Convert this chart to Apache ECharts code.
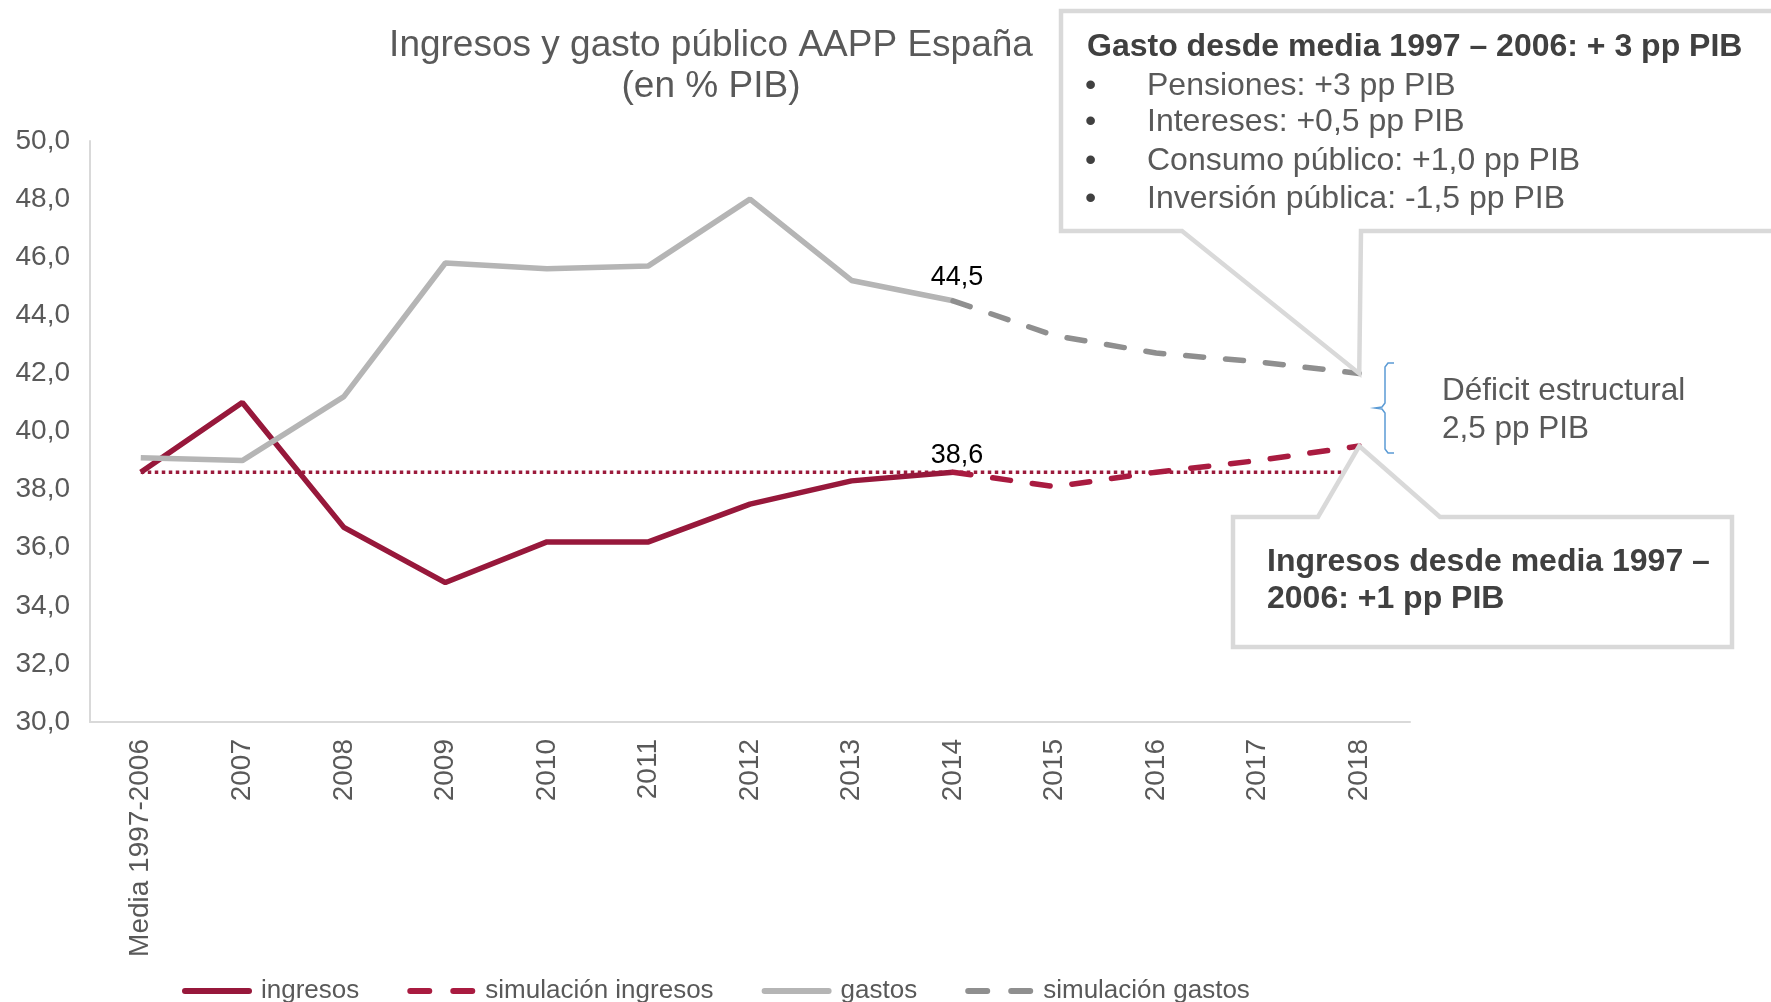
<!DOCTYPE html>
<html>
<head>
<meta charset="utf-8">
<title>Ingresos y gasto público AAPP España</title>
<script src="https://cdn.jsdelivr.net/npm/echarts@6/dist/echarts.min.js"></script>
<style>
  html, body { margin: 0; padding: 0; background: #fff; }
  #main { width: 1771px; height: 1002px; }
</style>
</head>
<body>
<div id="main"></div>
<script>
// data (% PIB)
const categories = ["Media 1997-2006", "2007", "2008", "2009", "2010", "2011", "2012",
  "2013", "2014", "2015", "2016", "2017", "2018"];
const ingresos = [38.6, 41.0, 36.7, 34.8, 36.2, 36.2, 37.5, 38.3, 38.6, null, null, null, null];
const simIngresos = [null, null, null, null, null, null, null, null, 38.6, 38.1, 38.6, 39.0, 39.5];
const gastos = [39.1, 39.0, 41.2, 45.8, 45.6, 45.7, 48.0, 45.2, 44.5, null, null, null, null];
const simGastos = [null, null, null, null, null, null, null, null, 44.5, 43.3, 42.7, 42.4, 42.0];
const mediaIngresos = [38.6, 38.6, 38.6, 38.6, 38.6, 38.6, 38.6, 38.6, 38.6, 38.6, 38.6, 38.6, 38.6];
const labelIndex = 8; // 2014 values are labelled

const FONT = "'Liberation Sans', Arial, sans-serif";
const GREY_TXT = "#595959";
const DARK_TXT = "#404040";
const BOX = "#d9d9d9";

const ICON_SOLID = "path://M3,0H67A3,3 0 0 1 67,6H3A3,3 0 0 1 3,0Z";
const ICON_DASH = "path://M3,0H22A3,3 0 0 1 22,6H3A3,3 0 0 1 3,0Z M46,0H65A3,3 0 0 1 65,6H46A3,3 0 0 1 46,0Z";

const fmt = v => v.toFixed(1).replace(".", ",");

function labelAt(idx, dist) {
  return {
    show: true,
    position: "top",
    distance: dist,
    offset: [4, 0],
    color: "#000",
    fontSize: 27,
    fontFamily: FONT,
    formatter: p => (p.dataIndex === idx ? fmt(p.value) : "")
  };
}

const chart = echarts.init(document.getElementById("main"));

const option = {
  animation: false,
  backgroundColor: "#fff",
  textStyle: { fontFamily: FONT },
  title: {
    text: "Ingresos y gasto público AAPP España\n(en % PIB)",
    left: 706,
    top: 20,
    textAlign: "center",
    textStyle: {
      fontFamily: FONT,
      fontWeight: "normal",
      fontSize: 37,
      lineHeight: 41,
      color: GREY_TXT
    }
  },
  grid: { left: 90, right: 361, top: 141, bottom: 280 },
  legend: {
    data: [
      { name: "ingresos", icon: ICON_SOLID },
      { name: "simulación ingresos", icon: ICON_DASH },
      { name: "gastos", icon: ICON_SOLID },
      { name: "simulación gastos", icon: ICON_DASH }
    ],
    left: 177,
    top: 973,
    itemWidth: 72,
    itemHeight: 6,
    itemGap: 48,
    textStyle: { fontFamily: FONT, fontSize: 26, color: GREY_TXT, padding: [0, 0, 0, 3] }
  },
  xAxis: {
    type: "category",
    data: categories,
    axisLine: { lineStyle: { color: BOX, width: 2 } },
    axisTick: { show: false },
    axisLabel: {
      rotate: 90,
      margin: 17,
      fontSize: 28,
      fontFamily: FONT,
      color: GREY_TXT,
      interval: 0
    }
  },
  yAxis: {
    type: "value",
    min: 30,
    max: 50,
    interval: 2,
    axisLine: { show: true, lineStyle: { color: BOX, width: 2 } },
    axisTick: { show: false },
    splitLine: { show: false },
    axisLabel: {
      margin: 20,
      fontSize: 28,
      fontFamily: FONT,
      color: GREY_TXT,
      formatter: v => fmt(v)
    }
  },
  series: [
    {
      name: "media",
      type: "line",
      data: mediaIngresos,
      symbol: "none",
      z: 1,
      lineStyle: { color: "#9b1b3c", width: 3.5, type: [3.5, 3.5] }
    },
    {
      name: "ingresos",
      type: "line",
      data: ingresos,
      symbol: "circle",
      symbolSize: 0,
      color: "#97183b",
      lineStyle: { color: "#97183b", width: 5.5 },
      label: labelAt(labelIndex, 3)
    },
    {
      name: "simulación ingresos",
      type: "line",
      data: simIngresos,
      symbol: "none",
      color: "#a91b40",
      lineStyle: { color: "#a91b40", width: 5.5, type: [18, 22], cap: "round" }
    },
    {
      name: "gastos",
      type: "line",
      data: gastos,
      symbol: "circle",
      symbolSize: 0,
      color: "#b5b5b5",
      lineStyle: { color: "#b5b5b5", width: 5.5 },
      label: labelAt(labelIndex, 10)
    },
    {
      name: "simulación gastos",
      type: "line",
      data: simGastos,
      symbol: "none",
      color: "#8f8f8f",
      lineStyle: { color: "#8f8f8f", width: 5.5, type: [18, 22], cap: "round" }
    }
  ]
};

chart.setOption(option);

// callout boxes point at the 2018 values
const last = categories.length - 1;
const tipG = chart.convertToPixel({ seriesName: "simulación gastos" }, [last, simGastos[last]]);
const tipI = chart.convertToPixel({ seriesName: "simulación ingresos" }, [last, simIngresos[last]]);

function txt(x, y, s, size, bold, color) {
  return {
    type: "text",
    x: x,
    y: y,
    z: 102,
    style: {
      text: s,
      fontFamily: FONT,
      fontSize: size,
      fontWeight: bold ? "bold" : "normal",
      fill: color,
      verticalAlign: "middle"
    }
  };
}

const bullets = [
  ["Pensiones: +3 pp PIB", 86],
  ["Intereses: +0,5 pp PIB", 122],
  ["Consumo público: +1,0 pp PIB", 161],
  ["Inversión pública: -1,5 pp PIB", 199]
];

const graphic = [
  {
    type: "polygon",
    z: 100,
    shape: {
      points: [[1061, 11], [1800, 11], [1800, 231], [1361, 231], tipG, [1182, 231], [1061, 231]]
    },
    style: { fill: "#fff", stroke: BOX, lineWidth: 4.5, lineJoin: "miter" }
  },
  {
    type: "polygon",
    z: 100,
    shape: {
      points: [[1233, 517], [1318, 517], tipI, [1440, 517], [1732, 517], [1732, 647], [1233, 647]]
    },
    style: { fill: "#fff", stroke: BOX, lineWidth: 4.5, lineJoin: "miter" }
  },
  txt(1087, 47, "Gasto desde media 1997 – 2006: + 3 pp PIB", 32, true, DARK_TXT),
  txt(1267, 562, "Ingresos desde media 1997 –", 32, true, DARK_TXT),
  txt(1267, 599, "2006: +1 pp PIB", 32, true, DARK_TXT),
  txt(1442, 391, "Déficit estructural", 31.5, false, GREY_TXT),
  txt(1442, 429, "2,5 pp PIB", 31.5, false, GREY_TXT),
  {
    type: "polyline",
    z: 101,
    shape: {
      points: [[1394, 363], [1388, 363], [1385, 367], [1385, 403], [1382, 407], [1375, 408],
        [1382, 409], [1385, 413], [1385, 449], [1388, 453], [1394, 453]]
    },
    style: { stroke: "#5b9bd5", lineWidth: 1.5, fill: null }
  }
];

bullets.forEach(b => {
  graphic.push(txt(1085, b[1], "•", 32, false, DARK_TXT));
  graphic.push(txt(1147, b[1], b[0], 32, false, GREY_TXT));
});

chart.setOption({ graphic: graphic });
</script>
</body>
</html>
